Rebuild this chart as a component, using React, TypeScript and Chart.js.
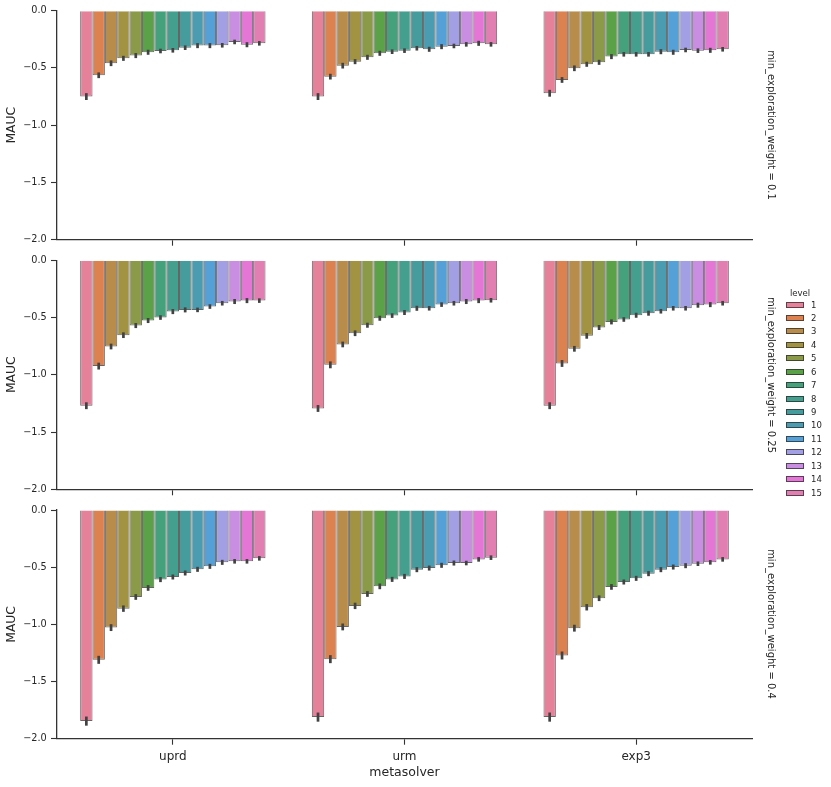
import { useEffect, useRef } from "react"
import { Chart, registerables } from "chart.js"

Chart.register(...registerables)

const metasolvers = ["uprd", "urm", "exp3"]
const levels = ["1", "2", "3", "4", "5", "6", "7", "8", "9", "10", "11", "12", "13", "14", "15"]
const weights = ["0.1", "0.25", "0.4"]
const yTicks = [0, -0.5, -1.0, -1.5, -2.0]

// MAUC por level (1..15), min_exploration_weight = 0.1
const uprdW01 = [-0.75, -0.564, -0.459, -0.416, -0.392, -0.363, -0.352, -0.346, -0.323, -0.305, -0.305, -0.302, -0.273, -0.297, -0.285]
const urmW01 = [-0.75, -0.576, -0.48, -0.445, -0.407, -0.372, -0.358, -0.349, -0.328, -0.337, -0.314, -0.308, -0.294, -0.285, -0.294]
const exp3W01 = [-0.721, -0.605, -0.503, -0.468, -0.451, -0.401, -0.381, -0.381, -0.381, -0.358, -0.363, -0.343, -0.349, -0.346, -0.337]

// min_exploration_weight = 0.25
const uprdW025 = [-1.27, -0.924, -0.753, -0.654, -0.57, -0.526, -0.5, -0.448, -0.433, -0.433, -0.404, -0.375, -0.36, -0.352, -0.352]
const urmW025 = [-1.294, -0.913, -0.735, -0.637, -0.567, -0.506, -0.483, -0.456, -0.419, -0.419, -0.387, -0.375, -0.36, -0.352, -0.349]
const exp3W025 = [-1.27, -0.901, -0.773, -0.66, -0.587, -0.538, -0.517, -0.48, -0.462, -0.445, -0.419, -0.419, -0.392, -0.387, -0.375]

// min_exploration_weight = 0.4
const uprdW04 = [-1.846, -1.31, -1.028, -0.862, -0.76, -0.681, -0.608, -0.585, -0.55, -0.518, -0.492, -0.457, -0.448, -0.448, -0.422]
const urmW04 = [-1.811, -1.304, -1.022, -0.838, -0.734, -0.667, -0.606, -0.58, -0.521, -0.507, -0.483, -0.463, -0.463, -0.431, -0.416]
const exp3W04 = [-1.811, -1.272, -1.033, -0.85, -0.771, -0.672, -0.629, -0.597, -0.556, -0.521, -0.498, -0.486, -0.469, -0.457, -0.431]

// meia largura do intervalo de confiança
const errW01 = [0.03, 0.025, 0.025, 0.022, 0.022, 0.022, 0.02, 0.02, 0.02, 0.022, 0.022, 0.02, 0.02, 0.022, 0.02]
const errW025 = [0.03, 0.03, 0.025, 0.025, 0.022, 0.022, 0.02, 0.022, 0.022, 0.02, 0.02, 0.02, 0.022, 0.022, 0.02]
const errW04 = [0.04, 0.035, 0.03, 0.028, 0.025, 0.025, 0.022, 0.022, 0.022, 0.022, 0.022, 0.022, 0.02, 0.02, 0.02]

const levelColors = [
  "#e6819a", "#dc8150", "#b88d4c", "#a29343", "#8b9a48",
  "#5aa147", "#45a17c", "#449f8e", "#469c9d", "#4b9cb0",
  "#55a0d6", "#a39fe4", "#c98de2", "#e477d6", "#e27fb2",
]

const rowSeries = [
  [uprdW01, urmW01, exp3W01],
  [uprdW025, urmW025, exp3W025],
  [uprdW04, urmW04, exp3W04],
]
const rowErrors = [errW01, errW025, errW04]

const FONT = "'DejaVu Sans', sans-serif"
const TEXT = "#262626"
const AXIS = "#333333"
const EDGE = "rgba(35,35,35,0.7)"

const panelTop = [0, 250, 500]
const panelHeight = [250, 250, 287]
const areaTop = [10.7, 10.3, 9.7]
const xAxisHeight = [10.3, 10.7, 48.3]

const errorBars = {
  id: "errorBars",
  afterDatasetsDraw(chart: any, _args: any, opts: any) {
    const { ctx } = chart
    const yScale = chart.scales.y
    const errs: number[] = opts.errors || []
    ctx.save()
    ctx.strokeStyle = "#424242"
    ctx.lineWidth = 2.7
    ctx.lineCap = "butt"
    chart.data.datasets.forEach((ds: any, di: number) => {
      const meta = chart.getDatasetMeta(di)
      meta.data.forEach((el: any, j: number) => {
        const v = ds.data[j]
        const e = errs[di] || 0
        ctx.beginPath()
        ctx.moveTo(el.x, yScale.getPixelForValue(v - e))
        ctx.lineTo(el.x, yScale.getPixelForValue(v + e))
        ctx.stroke()
      })
    })
    ctx.restore()
  },
}

function FacetPanel({ row }: { row: number }) {
  const chartRef = useRef<HTMLCanvasElement>(null)
  const chartInstance = useRef<Chart | null>(null)

  useEffect(() => {
    if (!chartRef.current) return
    if (chartInstance.current) chartInstance.current.destroy()
    const ctx = chartRef.current.getContext("2d")
    if (!ctx) return

    const series = rowSeries[row]
    const isBottom = row === 2

    chartInstance.current = new Chart(ctx, {
      type: "bar",
      data: {
        labels: metasolvers,
        datasets: levels.map((lv, i) => ({
          label: lv,
          data: series.map((s) => s[i]),
          backgroundColor: levelColors[i],
          borderColor: EDGE,
          borderWidth: 1,
          categoryPercentage: 0.8,
          barPercentage: 1.0,
        })),
      },
      options: {
        animation: false,
        responsive: true,
        maintainAspectRatio: false,
        layout: { padding: { left: 0, right: 79, top: areaTop[row], bottom: 0 } },
        plugins: {
          legend: { display: false },
          tooltip: { enabled: false },
          errorBars: { errors: rowErrors[row] },
        } as any,
        scales: {
          x: {
            afterFit: (scale: any) => {
              scale.height = xAxisHeight[row]
            },
            grid: {
              offset: false,
              drawOnChartArea: false,
              drawTicks: true,
              tickLength: 6,
              tickWidth: 1.1,
              tickColor: AXIS,
            },
            border: { display: true, color: AXIS, width: 1.3 },
            ticks: {
              display: isBottom,
              color: TEXT,
              padding: 4.8,
              font: { family: FONT, size: 12 },
            },
            title: {
              display: isBottom,
              text: "metasolver",
              color: TEXT,
              font: { family: FONT, size: 12.5 },
              padding: { top: 0, bottom: 6.8 },
            },
          },
          y: {
            min: -2,
            max: 0,
            afterFit: (scale: any) => {
              scale.width = 57
            },
            afterBuildTicks: (scale: any) => {
              scale.ticks = yTicks.map((v) => ({ value: v }))
            },
            grid: {
              drawOnChartArea: false,
              drawTicks: true,
              tickLength: 6,
              tickWidth: 1.1,
              tickColor: AXIS,
            },
            border: { display: true, color: AXIS, width: 1.3 },
            ticks: {
              color: TEXT,
              padding: 4.3,
              font: { family: FONT, size: 9.7 },
              callback: (v: any) => (Number(v) === 0 ? "0.0" : "\u2212" + Math.abs(Number(v)).toFixed(1)),
            },
            title: {
              display: true,
              text: "MAUC",
              color: TEXT,
              font: { family: FONT, size: 12.3 },
              padding: { top: 4.8, bottom: 0 },
            },
          },
        },
      },
      plugins: [errorBars],
    })

    return () => {
      if (chartInstance.current) {
        chartInstance.current.destroy()
        chartInstance.current = null
      }
    }
  }, [row])

  return (
    <div
      style={{
        position: "absolute",
        left: 0,
        top: panelTop[row],
        width: 831,
        height: panelHeight[row],
      }}
    >
      <canvas ref={chartRef} />
    </div>
  )
}

export default function App() {
  const centers = [125.2, 374.8, 624.2]
  return (
    <div
      style={{
        position: "absolute",
        left: 0,
        top: 0,
        width: 831,
        height: 787,
        background: "#ffffff",
        overflow: "hidden",
        fontFamily: FONT,
        color: TEXT,
      }}
    >
      {weights.map((_, r) => (
        <FacetPanel key={r} row={r} />
      ))}

      {weights.map((w, r) => (
        <div
          key={"t" + r}
          style={{
            position: "absolute",
            left: 771,
            top: centers[r],
            transform: "translate(-50%, -50%)",
            writingMode: "vertical-rl",
            fontSize: 10,
            lineHeight: "12px",
            whiteSpace: "nowrap",
          }}
        >
          {"min_exploration_weight = " + w}
        </div>
      ))}

      <div
        style={{
          position: "absolute",
          left: 800,
          top: 292.7,
          transform: "translate(-50%, -50%)",
          fontSize: 8.5,
          lineHeight: "10px",
          whiteSpace: "nowrap",
        }}
      >
        level
      </div>
      {levels.map((lv, i) => (
        <div
          key={"l" + lv}
          style={{
            position: "absolute",
            left: 785.5,
            top: 304.5 + i * 13.43,
            transform: "translateY(-50%)",
            display: "flex",
            alignItems: "center",
            fontSize: 8.5,
            lineHeight: "10px",
            whiteSpace: "nowrap",
          }}
        >
          <span
            style={{
              display: "inline-block",
              width: 16.5,
              height: 4,
              background: levelColors[i],
              border: "0.8px solid " + EDGE,
              marginRight: 7,
            }}
          />
          <span>{lv}</span>
        </div>
      ))}
    </div>
  )
}
